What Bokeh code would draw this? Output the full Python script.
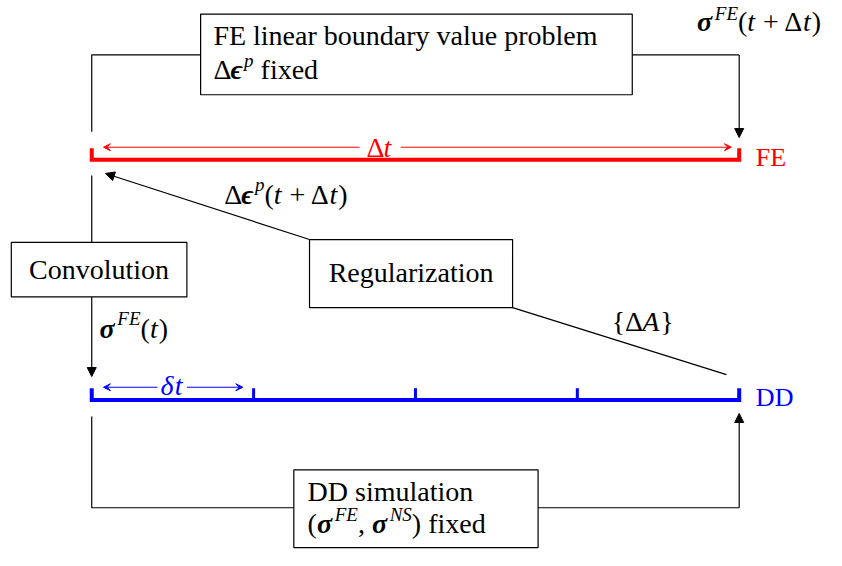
from bokeh.plotting import figure
from bokeh.models import Range1d, Arrow, NormalHead, VeeHead, ColumnDataSource
from bokeh.core.properties import value
from bokeh.embed import file_html
from bokeh.resources import INLINE

# ---------------- content (labels) ----------------
stage_names = ["FE", "DD"]
stage_colors = ["red", "blue"]
box_titles = ["FE linear boundary value problem", "Convolution", "Regularization", "DD simulation"]
dd_substeps = 4
fixed_word = " fixed"

# ---------------- layout ----------------
FONT = "Liberation Serif"
S = 28      # main text size (px)
SS = 19     # superscript size (px)
RAISE = 13  # superscript raise (data units)
MID = 0.33  # baseline -> middle offset (fraction of size)

PW, PH = 826, 550
DW, DH = 842, 566
SX = PW / DW
SY = PH / DH

X0, X1 = 93, 753          # time axis ends
Y_FE, Y_DD = 164, 411     # bar levels
TICK = 12

p = figure(width=PW, height=PH, x_range=Range1d(0, DW), y_range=Range1d(DH, 0),
           output_backend="svg", toolbar_location=None, min_border=0,
           x_axis_location=None, y_axis_location=None, outline_line_color=None,
           background_fill_color="white", border_fill_color="white")
p.grid.grid_line_color = None

# ---- approximate glyph widths (per 1000 em) for run layout ----
W = {' ': 250, '(': 333, ')': 333, '+': 564, 'Δ': 612, 't': 278, 'p': 500, 'F': 611, 'E': 611,
     'N': 667, 'S': 500, 'A': 611, '{': 480, '}': 480, ',': 250, 'σ': 600, 'ϵ': 450,
     'f': 333, 'i': 278, 'x': 500, 'e': 444, 'd': 500, 'δ': 480}

runs = dict(x=[], y=[], text=[], size=[], style=[], color=[])


def add_runs(x, y, segs, color="black", raise_=RAISE):
    for seg in segs:
        txt, style = seg[0], seg[1]
        sup = len(seg) > 2 and seg[2]
        size = SS if sup else S
        lead = len(txt) - len(txt.lstrip(" "))
        x += lead * W[' '] * size / 1000.0 / SX
        txt = txt.lstrip(" ")
        base = y - raise_ if sup else y
        runs["x"].append(x)
        runs["y"].append(base - MID * size / SY)
        runs["text"].append(txt)
        runs["size"].append(f"{size}px")
        runs["style"].append(style)
        runs["color"].append(color)
        x += sum(W.get(c, 500) for c in txt) * size / 1000.0 / SX
        if style in ("italic", "bold italic") and not sup:
            x += 1


N, I, BI = "normal", "italic", "bold italic"

add_runs(217, 46, [(box_titles[0], N)])
add_runs(217, 81, [("Δ", N), ("ϵ", BI), ("p", I, True), (fixed_word, N)])
add_runs(710, 31, [("σ", BI), ("FE", I, True), ("(", N), ("t", I), (" + Δ", N), ("t", I), (")", N)], raise_=11)
add_runs(228, 209, [("Δ", N), ("ϵ", BI), ("p", I, True), ("(", N), ("t", I), (" + Δ", N), ("t", I), (")", N)])
add_runs(101, 347, [("σ", BI), ("FE", I, True), ("(", N), ("t", I), (")", N)])
add_runs(313, 515, [(box_titles[3], N)])
add_runs(313, 548, [("(", N), ("σ", BI), ("FE", I, True), (", ", N), ("σ", BI), ("NS", I, True), (")", N), (fixed_word, N)])
add_runs(623, 340, [("{", N), ("Δ", N), ("A", I), ("}", N)])
add_runs(373, 161, [("Δ", N), ("t", I)], color=stage_colors[0])
add_runs(163, 406, [("δ", I), ("t", I)], color=stage_colors[1])

# ---- boxes ----
boxes = dict(left=[204, 11, 315, 299], right=[644, 190, 522, 548],
             top=[14, 249, 246, 483], bottom=[97, 305, 316, 563])
p.quad(left="left", right="right", top="top", bottom="bottom", source=ColumnDataSource(boxes),
       fill_color="white", line_color="black", line_width=1.2)

p.text(x=[100.5, 418.5], y=[277, 280], text=[box_titles[1], box_titles[2]],
       text_font=value(FONT), text_font_size=f"{S}px", text_align="center",
       text_baseline="middle", text_color="black")

# ---- connector lines ----
paths_x = [[X0, X0, 204], [644, X1], [X0, X0], [522, 740], [X0, X0, 299], [548, X1]]
paths_y = [[135, 56, 56], [56, 56], [180, 249], [316, 385], [428, 522, 522], [522, 522]]
p.multi_line(xs=paths_x, ys=paths_y, line_color="black", line_width=1.2)

arrows = dict(x_start=[X1, X0, 315, X1], y_start=[56, 305, 246, 522],
              x_end=[X1, X0, 107, X1], y_end=[141, 387, 178, 425])
p.add_layout(Arrow(end=NormalHead(size=9, fill_color="black", line_color="black", line_width=1),
                   source=ColumnDataSource(arrows), x_start="x_start", y_start="y_start",
                   x_end="x_end", y_end="y_end", line_color="black", line_width=1.2))

# ---- time bars ----
p.multi_line(xs=[[X0, X0, X1, X1]], ys=[[Y_FE - TICK, Y_FE, Y_FE, Y_FE - TICK]],
             line_color=stage_colors[0], line_width=4, line_join="miter")
step = (X1 - X0) / dd_substeps
dd_ticks = [X0 + k * step for k in range(dd_substeps + 1)]
p.multi_line(xs=[[X0, X0, X1, X1]], ys=[[Y_DD - TICK, Y_DD, Y_DD, Y_DD - TICK]],
             line_color=stage_colors[1], line_width=4, line_join="miter")
p.segment(x0=dd_ticks[1:-1], y0=[Y_DD] * (dd_substeps - 1), x1=dd_ticks[1:-1], y1=[Y_DD - TICK] * (dd_substeps - 1),
          line_color=stage_colors[1], line_width=3)

p.text(x=[770, 770], y=[Y_FE - 2, Y_DD - 2], text=stage_names, text_color=stage_colors,
       text_font=value(FONT), text_font_size=f"{S - 2}px", text_baseline="middle", text_align="left")

# interval arrows (with gap for label)
for col, (xs0, xe, yy) in [(stage_colors[0], ([366, 408], [105, 745], 151)),
                           (stage_colors[1], ([160, 190], [105, 247], 398))]:
    src = ColumnDataSource(dict(x_start=xs0, x_end=xe, y=[yy, yy]))
    p.add_layout(Arrow(end=VeeHead(size=7, line_color=col, fill_color=col, line_width=1),
                       source=src, x_start="x_start", y_start="y", x_end="x_end", y_end="y",
                       line_color=col, line_width=1))

p.text(x="x", y="y", text="text", text_font_size="size", text_font_style="style", text_color="color",
       source=ColumnDataSource(runs), text_font=value(FONT), text_baseline="middle", text_align="left")

open("out.html", "w").write(file_html(p, INLINE))
